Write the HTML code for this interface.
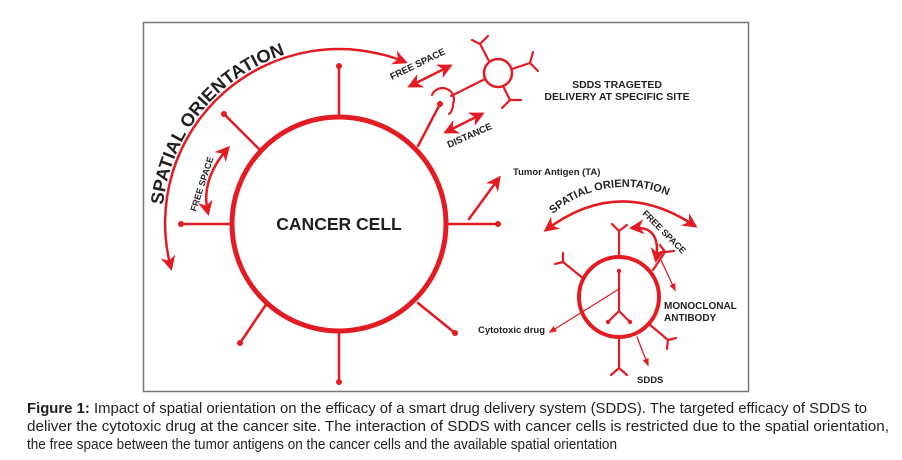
<!DOCTYPE html>
<html><head><meta charset="utf-8"><style>
html,body{margin:0;padding:0;background:#fff;}
svg{display:block;}
</style></head><body>
<svg width="902" height="460" viewBox="0 0 902 460" xmlns="http://www.w3.org/2000/svg" font-family="Liberation Sans, Arial, sans-serif">
<defs>
<marker id="ah" viewBox="0 0 10 10" refX="8" refY="5" markerWidth="6" markerHeight="6" orient="auto-start-reverse"><path d="M0,0 L10,5 L0,10 L3,5 z" fill="#e31b23"/></marker>
<marker id="ahs" viewBox="0 0 10 10" refX="8" refY="5" markerWidth="6" markerHeight="6" orient="auto-start-reverse"><path d="M0,1 L10,5 L0,9 z" fill="#e31b23"/></marker>
<path id="bigtxt" d="M 163 205 A 178 178 0 0 1 330 46"/>
<path id="smtxt" d="M 553 214 A 110 110 0 0 1 690 208"/>
</defs>
<rect x="143.5" y="22.5" width="605" height="369" fill="#fff" stroke="#777" stroke-width="1.5"/>
<g stroke="#e31b23" fill="none" stroke-linecap="round">
<circle cx="339" cy="224" r="107" stroke-width="5"/>
<g stroke-width="2.5">
<line x1="339" y1="117" x2="339" y2="66"/>
<line x1="339" y1="331" x2="339" y2="382"/>
<line x1="232" y1="224" x2="181" y2="224"/>
<line x1="446" y1="224" x2="498" y2="224"/>
<line x1="260" y1="150" x2="224" y2="114"/>
<line x1="267" y1="303" x2="240" y2="343"/>
<line x1="418" y1="303" x2="455" y2="333"/>
<line x1="418" y1="146" x2="440" y2="104"/>
</g>
<path d="M 171 268 A 174 174 0 0 1 405 62" stroke-width="2.5" marker-start="url(#ah)" marker-end="url(#ah)"/>
<path d="M 208 213 Q 200 180 228 148" stroke-width="2.5" marker-start="url(#ah)" marker-end="url(#ah)"/>
<line x1="410" y1="86" x2="450" y2="66" stroke-width="2.5" marker-start="url(#ah)" marker-end="url(#ah)"/>
<line x1="446" y1="132" x2="482" y2="114" stroke-width="2.5" marker-start="url(#ah)" marker-end="url(#ah)"/>
<line x1="469" y1="219" x2="499" y2="178" stroke-width="2.5" marker-end="url(#ah)"/>
<circle cx="498" cy="73" r="14" stroke-width="2.5"/>
<g stroke-width="2.2">
<line x1="489" y1="61" x2="480" y2="44"/><line x1="480" y1="44" x2="472" y2="40"/><line x1="480" y1="44" x2="488" y2="36"/>
<line x1="512" y1="69" x2="530" y2="63"/><line x1="530" y1="63" x2="533" y2="52"/><line x1="530" y1="63" x2="538" y2="71"/>
<line x1="503" y1="86" x2="510" y2="100"/><line x1="510" y1="100" x2="502" y2="108"/><line x1="510" y1="100" x2="521" y2="100"/>
<line x1="485" y1="79" x2="451" y2="96"/>
<path d="M 432 95 A 11 11 0 0 1 453 104 L 453 106 Q 452 112 449 114"/>
</g>
<circle cx="619" cy="297" r="40" stroke-width="4"/>
<g stroke-width="2.2">
<line x1="619" y1="257" x2="619" y2="231"/><line x1="619" y1="231" x2="612" y2="224"/><line x1="619" y1="231" x2="627" y2="225"/>
<line x1="619" y1="337" x2="619" y2="368"/><line x1="619" y1="368" x2="611" y2="375"/><line x1="619" y1="368" x2="627" y2="375"/>
<line x1="584" y1="279" x2="563" y2="262"/><line x1="563" y1="262" x2="555" y2="264"/><line x1="563" y1="262" x2="563" y2="253"/>
<line x1="649" y1="324" x2="668" y2="340"/><line x1="668" y1="340" x2="676" y2="338"/><line x1="668" y1="340" x2="667" y2="349"/>
<line x1="653" y1="270" x2="665" y2="252"/><line x1="665" y1="252" x2="660" y2="245"/><line x1="665" y1="252" x2="674" y2="251"/>
<line x1="619" y1="271" x2="619" y2="311"/><line x1="619" y1="311" x2="608" y2="322"/><line x1="619" y1="311" x2="630" y2="322"/>
</g>
<g fill="#e31b23" stroke="none">
<circle cx="619" cy="271" r="2.2"/><circle cx="608" cy="322" r="2.2"/><circle cx="630" cy="322" r="2.2"/>
</g>
<g stroke-width="1.3">
<line x1="619" y1="289" x2="550" y2="332" marker-end="url(#ahs)"/>
<line x1="660" y1="258" x2="675" y2="290" marker-end="url(#ahs)"/>
<line x1="637" y1="337" x2="648" y2="365" marker-end="url(#ahs)"/>
</g>
<path d="M 546 230 Q 619 175 695 226" stroke-width="2.5" marker-start="url(#ah)" marker-end="url(#ah)"/>
<path d="M 632 228 Q 662 225 656 260" stroke-width="2.5" marker-start="url(#ah)" marker-end="url(#ah)"/>
</g>
<g fill="#e31b23">
<circle cx="339" cy="66" r="3"/><circle cx="339" cy="382" r="3"/><circle cx="181" cy="224" r="3"/><circle cx="498" cy="224" r="3"/>
<circle cx="224" cy="114" r="3"/><circle cx="240" cy="343" r="3"/><circle cx="455" cy="333" r="3"/><circle cx="440" cy="104" r="3"/>
</g>
<g fill="#231f20" font-weight="bold">
<text font-size="18"><textPath href="#bigtxt" textLength="205" lengthAdjust="spacingAndGlyphs">SPATIAL ORIENTATION</textPath></text>
<text x="339" y="230" font-size="17.5" text-anchor="middle">CANCER CELL</text>
<text x="0" y="0" font-size="9" transform="translate(196,212) rotate(-72)">FREE SPACE</text>
<text x="0" y="0" font-size="9.5" transform="translate(392,80) rotate(-26)">FREE SPACE</text>
<text x="0" y="0" font-size="9.5" transform="translate(449,148) rotate(-24)">DISTANCE</text>
<text x="617" y="88" font-size="10.5" text-anchor="middle">SDDS TRAGETED</text>
<text x="617" y="100" font-size="10.5" text-anchor="middle">DELIVERY AT SPECIFIC SITE</text>
<text x="513" y="175" font-size="9.5">Tumor Antigen (TA)</text>
<text font-size="11"><textPath href="#smtxt">SPATIAL  ORIENTATION</textPath></text>
<text x="0" y="0" font-size="9" transform="translate(642,214) rotate(45)">FREE SPACE</text>
<text x="664" y="309" font-size="10">MONOCLONAL</text>
<text x="664" y="321" font-size="10">ANTIBODY</text>
<text x="478" y="333" font-size="9.5">Cytotoxic drug</text>
<text x="637" y="383" font-size="9.5">SDDS</text>
</g>
<g fill="#231f20" font-size="14.5">
<text x="27" y="413" textLength="840" lengthAdjust="spacingAndGlyphs"><tspan font-weight="bold">Figure 1:</tspan> Impact of spatial orientation on the efficacy of a smart drug delivery system (SDDS). The targeted efficacy of SDDS to</text>
<text x="27" y="431" textLength="862" lengthAdjust="spacingAndGlyphs">deliver the cytotoxic drug at the cancer site. The interaction of SDDS with cancer cells is restricted due to the spatial orientation,</text>
<text x="27" y="449" textLength="590" lengthAdjust="spacingAndGlyphs">the free space between the tumor antigens on the cancer cells and the available spatial orientation</text>
</g>
</svg>
</body></html>
